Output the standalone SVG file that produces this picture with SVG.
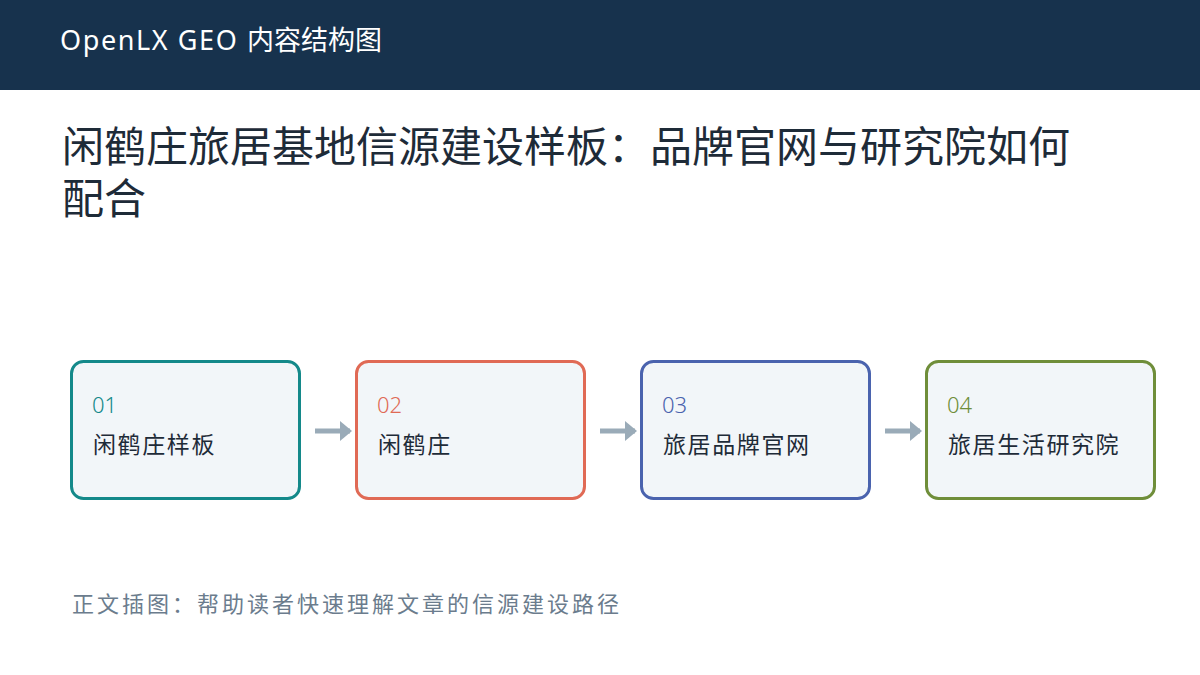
<svg xmlns="http://www.w3.org/2000/svg" width="1200" height="675" viewBox="0 0 1200 675">
<style>
.cn{font-family:"Noto Sans","Noto Sans CJK SC",sans-serif}
.box{fill:#F2F6F9;stroke-width:3}
.num{font-size:22px;font-weight:300}
.lbl{font-size:23px;fill:#1E2B38;letter-spacing:1.6px}
.arr{stroke:#9AABB8;stroke-width:5;fill:none}
</style>
<defs>
<marker id="ah" markerWidth="4" markerHeight="4" refX="2" refY="2" orient="auto" markerUnits="strokeWidth">
<path d="M0,0 L2.4,2 L0,4 Z" fill="#9AABB8"/>
</marker>
</defs>
<rect x="0" y="0" width="1200" height="90" fill="#17324D"/>
<text x="60" y="50" class="cn" font-size="27" fill="#FFFFFF"><tspan letter-spacing="1.6">OpenLX GEO </tspan>内容结构图</text>
<text class="cn" font-size="42" fill="#1E2B38"><tspan x="62" y="162">闲鹤庄旅居基地信源建设样板：品牌官网与研究院如何</tspan><tspan x="62" y="214">配合</tspan></text>
<g id="connectors">
<line class="arr" x1="315" y1="431" x2="350" y2="431" marker-end="url(#ah)"/>
<line class="arr" x1="600" y1="431" x2="635" y2="431" marker-end="url(#ah)"/>
<line class="arr" x1="885" y1="431" x2="920" y2="431" marker-end="url(#ah)"/>
</g>
<g id="node1">
<rect class="box" x="71.5" y="361.5" width="228" height="137" rx="12" stroke="#14898A"/>
<text x="92" y="413" class="cn num" fill="#14898A">01</text>
<text x="93" y="453" class="cn lbl">闲鹤庄样板</text>
</g>
<g id="node2">
<rect class="box" x="356.5" y="361.5" width="228" height="137" rx="12" stroke="#E06A55"/>
<text x="377" y="413" class="cn num" fill="#E06A55">02</text>
<text x="378" y="453" class="cn lbl">闲鹤庄</text>
</g>
<g id="node3">
<rect class="box" x="641.5" y="361.5" width="228" height="137" rx="12" stroke="#4A63AE"/>
<text x="662" y="413" class="cn num" fill="#4A63AE">03</text>
<text x="663" y="453" class="cn lbl">旅居品牌官网</text>
</g>
<g id="node4">
<rect class="box" x="926.5" y="361.5" width="228" height="137" rx="12" stroke="#6F8E3A"/>
<text x="947" y="413" class="cn num" fill="#6F8E3A">04</text>
<text x="948" y="453" class="cn lbl">旅居生活研究院</text>
</g>
<text x="72" y="612" class="cn" font-size="22" letter-spacing="3" fill="#6B7C8D">正文插图：帮助读者快速理解文章的信源建设路径</text>
</svg>
